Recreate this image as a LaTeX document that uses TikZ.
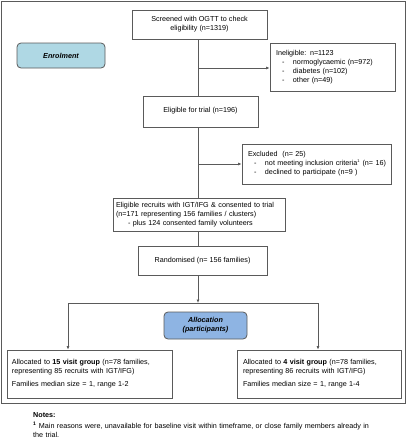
\documentclass[tikz,border=0pt]{standalone}
\usepackage{fontspec}
\setmainfont{Liberation Sans}
\usetikzlibrary{arrows.meta}
\definecolor{ln}{HTML}{5A5A5A}
\definecolor{enrol}{HTML}{AFD8E4}
\definecolor{alloc}{HTML}{8EB4E3}
\begin{document}
\begin{tikzpicture}[x=1pt,y=-1pt,
  every node/.style={font=\fontsize{7.2}{9.1}\selectfont},
  box/.style={draw=ln,line width=0.8pt,rectangle,inner sep=0pt},
  label/.style={draw=ln,line width=0.8pt,rounded corners=4pt,inner sep=0pt,align=center,font=\fontsize{7.2}{9.1}\selectfont\bfseries\itshape},
  conn/.style={ln,line width=0.8pt},
  arr/.style={conn,-{Latex[length=3.5pt,width=3pt]}}]
\useasboundingbox (0,0) rectangle (408,440);
\draw[ln,line width=0.8pt] (1,1) rectangle (405,403);
\coordinate (t) at (198,0);
% boxes
\node[box,minimum width=135pt,minimum height=29pt,align=center] (scr) at (199.5,24.5) {Screened with OGTT to check\\eligibility (n=1319)};
\node[label,fill=enrol,minimum width=88pt,minimum height=25pt] (enr) at (61,55.5) {Enrolment};
\node[box,minimum width=125pt,minimum height=48pt,text width=113pt,align=left] (inel) at (332.5,67) {Ineligible: n=1123\\
\hspace*{6pt}\makebox[11pt][l]{-}normoglycaemic (n=972)\\
\hspace*{6pt}\makebox[11pt][l]{-}diabetes (n=102)\\
\hspace*{6pt}\makebox[11pt][l]{-}other (n=49)};
\node[box,minimum width=115pt,minimum height=31pt,align=center] (elig) at (200.5,111.5) {\raisebox{3pt}{Eligible for trial (n=196)}};
\node[box,minimum width=149pt,minimum height=40pt,text width=137pt,align=left] (exc) at (316.5,164) {\mbox{Excluded\ \ (n= 25)}\\
\mbox{\hspace*{6pt}\makebox[11pt][l]{-}not meeting inclusion criteria\textsuperscript{\fontsize{4}{4}\selectfont 1} (n= 16)}\\
\mbox{\hspace*{6pt}\makebox[11pt][l]{-}declined to participate (n=9 )}};
\node[box,minimum width=172pt,minimum height=33pt,text width=166pt,align=left] (rec) at (199,214.5) {Eligible recruits with IGT/IFG \& consented to trial\\
(n=171 representing 156 families / clusters)\\
\hspace*{12pt}- plus 124 consented family volunteers};
\node[box,minimum width=129pt,minimum height=29pt,align=center] (rand) at (202.5,260.5) {Randomised (n= 156 families)};
\node[label,fill=alloc,minimum width=83pt,minimum height=27pt] (all) at (205.5,325.5) {Allocation\\(participants)};
\node[box,minimum width=165pt,minimum height=48pt,text width=155pt,align=left] (lg) at (89.5,374) {Allocated to \textbf{15 visit group} (n=78 families,\\
representing 85 recruits with IGT/IFG)\\[4pt]
Families median size = 1, range 1-2};
\node[box,minimum width=164pt,minimum height=48pt,text width=152pt,align=left] (rg) at (319,374) {Allocated to \textbf{4 visit group} (n=78 families,\\
representing 86 recruits with IGT/IFG)\\[4pt]
Families median size = 1, range 1-4};
% notes
\node[anchor=west,inner sep=0pt,font=\fontsize{7.2}{9.1}\selectfont\bfseries] (notes) at (33,415) {Notes:};
\node[anchor=north west,inner sep=0pt,text width=340pt,align=left] (fn) at (33,421.5) {\textsuperscript{\bfseries 1} Main reasons were, unavailable for baseline visit within timeframe, or close family members already in\\the trial.};
% connectors
\draw[conn] (scr.south -| t) -- (elig.north -| t);
\coordinate (b1) at (198,68);
\draw[arr] (b1) -- (b1 -| inel.west);
\draw[conn] (elig.south -| t) -- (rec.north -| t);
\coordinate (b2) at (198,164);
\draw[arr] (b2) -- (b2 -| exc.west);
\draw[conn] (rec.south -| t) -- (rand.north -| t);
\coordinate (sp) at (198,303);
\draw[arr] (rand.south -| t) -- (sp);
\coordinate (sl) at (68,303);
\coordinate (sr) at (318,303);
\draw[conn] (sl) -- (sr);
\draw[arr] (sl) -- (sl |- lg.north);
\draw[arr] (sr) -- (sr |- rg.north);
\end{tikzpicture}
\end{document}
